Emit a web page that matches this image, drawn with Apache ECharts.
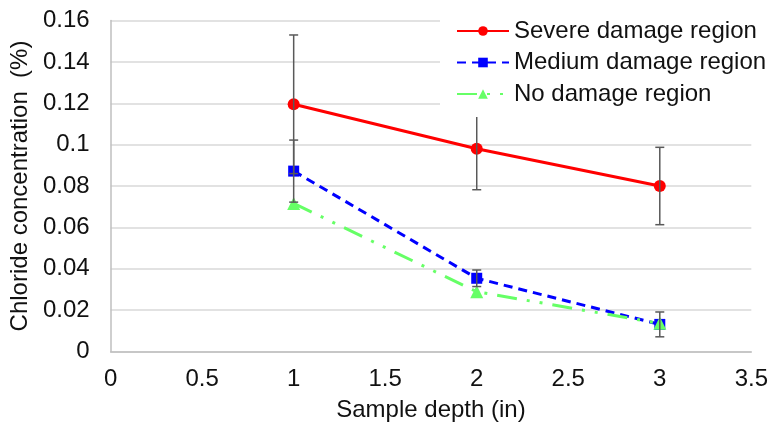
<!DOCTYPE html>
<html>
<head>
<meta charset="utf-8">
<script src="https://cdn.jsdelivr.net/npm/echarts@6/dist/echarts.min.js"></script>
<style>html,body{margin:0;padding:0;background:#fff}#c{width:771px;height:431px}</style>
</head>
<body>
<div id="c"></div>
<script>
const depth = [1, 2, 3];
const severe = [0.1195, 0.098, 0.080];
const severeErr = [0.0335, 0.0198, 0.0187];
const medium = [0.0872, 0.0354, 0.0131];
const mediumErr = [0.015, 0.004, 0.006];
const noDamage = [0.0716, 0.0289, 0.0136];
const seriesNames = ['Severe damage region', 'Medium damage region', 'No damage region'];
const xTicks = [0, 0.5, 1, 1.5, 2, 2.5, 3, 3.5];
const yTicks = [0, 0.02, 0.04, 0.06, 0.08, 0.1, 0.12, 0.14, 0.16];

const FONT = '"Liberation Sans", Arial, sans-serif';
const FS = 24;
const pts = (ys) => depth.map((d, i) => [d, ys[i]]);
const errs = (ys, es) => depth.map((d, i) => [d, ys[i] - es[i], ys[i] + es[i]]);

function errRender(params, api) {
  const x = api.value(0), lo = api.value(1), hi = api.value(2);
  const a = api.coord([x, hi]), b = api.coord([x, lo]);
  const w = 4.5;
  const style = { stroke: '#595959', lineWidth: 1.5 };
  return {
    type: 'group',
    children: [
      { type: 'line', shape: { x1: a[0], y1: a[1], x2: b[0], y2: b[1] }, style },
      { type: 'line', shape: { x1: a[0] - w, y1: a[1], x2: a[0] + w, y2: a[1] }, style },
      { type: 'line', shape: { x1: b[0] - w, y1: b[1], x2: b[0] + w, y2: b[1] }, style }
    ]
  };
}

const chart = echarts.init(document.getElementById('c'), null, { renderer: 'canvas' });
chart.setOption({
  animation: false,
  backgroundColor: '#fff',
  textStyle: { fontFamily: FONT },
  grid: { left: 109, right: 19, top: 20.5, bottom: 79.5 },
  legend: {
    data: seriesNames,
    orient: 'vertical',
    left: 440,
    top: 8,
    padding: [10, 10, 10, 16],
    backgroundColor: '#fff',
    itemWidth: 52,
    itemHeight: 12,
    itemGap: 5.5,
    textStyle: { fontSize: FS, color: '#111', fontFamily: FONT, lineHeight: 26 },
    z: 10
  },
  xAxis: {
    type: 'value', min: xTicks[0], max: xTicks[xTicks.length - 1], interval: 0.5,
    name: 'Sample depth (in)', nameLocation: 'middle', nameGap: 47,
    nameTextStyle: { fontSize: FS, color: '#111', fontFamily: FONT },
    axisLine: { show: true, lineStyle: { color: '#bfbfbf', width: 1.5 } },
    axisTick: { show: false },
    splitLine: { show: false },
    axisLabel: { fontSize: FS, color: '#111', margin: 16, fontFamily: FONT }
  },
  yAxis: {
    type: 'value', min: yTicks[0], max: yTicks[yTicks.length - 1], interval: 0.02,
    name: 'Chloride concentration  (%)', nameLocation: 'middle', nameGap: 73,
    nameTextStyle: { fontSize: FS, color: '#111', fontFamily: FONT },
    axisLine: { show: true, lineStyle: { color: '#bfbfbf', width: 1.5 } },
    axisTick: { show: false },
    splitLine: { show: true, lineStyle: { color: '#d9d9d9', width: 1.5 } },
    axisLabel: { fontSize: FS, color: '#111', margin: 21, fontFamily: FONT }
  },
  series: [
    {
      name: seriesNames[0], type: 'line', data: pts(severe),
      symbol: 'circle', symbolSize: 12,
      lineStyle: { color: '#ff0000', width: 3 },
      itemStyle: { color: '#ff0000' }, z: 3
    },
    {
      name: seriesNames[1], type: 'line', data: pts(medium),
      symbol: 'rect', symbolSize: 11,
      lineStyle: { color: '#0000ff', width: 3, type: [9, 6] },
      itemStyle: { color: '#0000ff' }, z: 3
    },
    {
      name: seriesNames[2], type: 'line', data: pts(noDamage),
      symbol: 'triangle', symbolSize: 13,
      lineStyle: { color: '#66ff66', width: 3, type: [20, 10, 3, 10, 3, 10] },
      itemStyle: { color: '#66ff66' }, z: 3
    },
    {
      type: 'custom', renderItem: errRender, data: errs(severe, severeErr),
      encode: { x: 0, y: [1, 2] }, z: 4, silent: true
    },
    {
      type: 'custom', renderItem: errRender, data: errs(medium, mediumErr),
      encode: { x: 0, y: [1, 2] }, z: 4, silent: true
    }
  ]
});
</script>
</body>
</html>
